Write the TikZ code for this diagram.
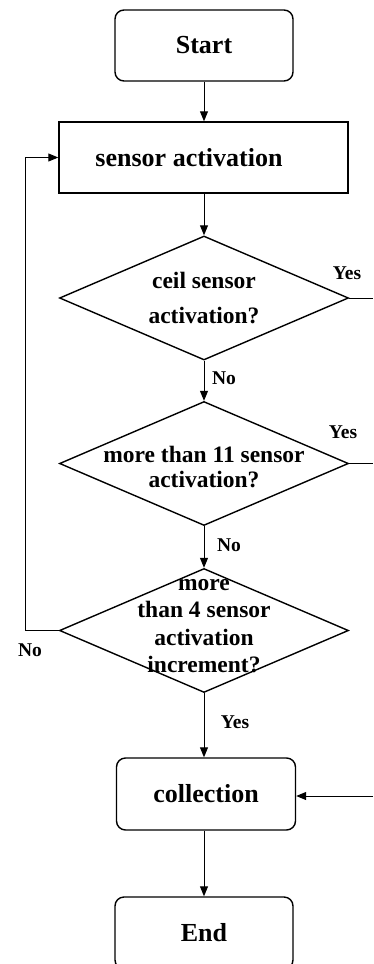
\documentclass[tikz,border=0pt]{standalone}
\usepackage{fontspec}
\setmainfont{Liberation Serif}
\usetikzlibrary{shapes.geometric,arrows.meta}
\begin{document}
\begin{tikzpicture}[x=1pt,y=-1pt,
  boxbase/.style={draw,line width=1.4pt,inner sep=0pt,minimum height=71pt,
    font=\fontsize{26}{30}\selectfont\bfseries},
  rbox/.style={boxbase,rounded corners=9pt,minimum width=178pt},
  sbox/.style={boxbase,minimum width=289pt},
  dec/.style={draw,shape=diamond,line width=1.4pt,inner sep=0pt,
    minimum width=289pt,minimum height=124pt},
  dtext/.style={align=center,inner sep=0pt,font=\bfseries},
  lab/.style={inner sep=0pt,font=\fontsize{19.5}{22}\selectfont\bfseries},
  arr/.style={-{Triangle[length=10pt,width=8pt]},line width=1pt},
  ln/.style={line width=1pt}]
\clip (0,0) rectangle (373,964);

\node[rbox] (start) at (204,45.5) {Start};
\node[sbox] (sens) at (203.5,157.5) {sensor activation\rule{29pt}{0pt}};
\node[dec] (d1) at (204,298) {};
\node[dec] (d2) at (204,463.5) {};
\node[dec] (d3) at (204,630.5) {};
\node[rbox,minimum width=179pt,minimum height=72pt] (coll) at (206,794) {collection};
\node[rbox,minimum height=72pt] (end) at (204,933) {End};

\node[dtext,font=\fontsize{23.5}{35}\selectfont\bfseries] (t1) at (204,298) {ceil sensor\\activation?};
\node[dtext,font=\fontsize{23.5}{25}\selectfont\bfseries] (t2) at (204,467) {more than 11 sensor\\activation?};
\node[dtext,font=\fontsize{23.5}{27.5}\selectfont\bfseries] (t3) at (204,626) {more\\than 4 sensor\\activation\\increment?};

\coordinate (r1) at (373,298);
\coordinate (r2) at (373,463.5);
\coordinate (r3) at (373,796);
\coordinate (lft) at (25.5,630.5);

\draw[arr] (start.south) -- (start.south |- sens.north);
\draw[arr] (d1.north |- sens.south) -- (d1.north);
\draw[arr] (d1.south) -- (d2.north);
\draw[arr] (d2.south) -- (d3.north);
\draw[arr] (d3.south) -- (d3.south |- coll.north);
\draw[arr] (d3.south |- coll.south) -- (d3.south |- end.north);
\draw[arr] (d3.west) -- (lft) |- (sens.west);
\draw[ln] (d1.east) -- (r1);
\draw[ln] (d2.east) -- (r2);
\draw[arr] (r3) -- (r3 -| coll.east);

\node[lab] (y1) at (347,273) {Yes};
\node[lab] (n1) at (224,378) {No};
\node[lab] (y2) at (343,432) {Yes};
\node[lab] (n2) at (229,545) {No};
\node[lab] (n3) at (30,650) {No};
\node[lab] (y3) at (235,722) {Yes};
\end{tikzpicture}
\end{document}
